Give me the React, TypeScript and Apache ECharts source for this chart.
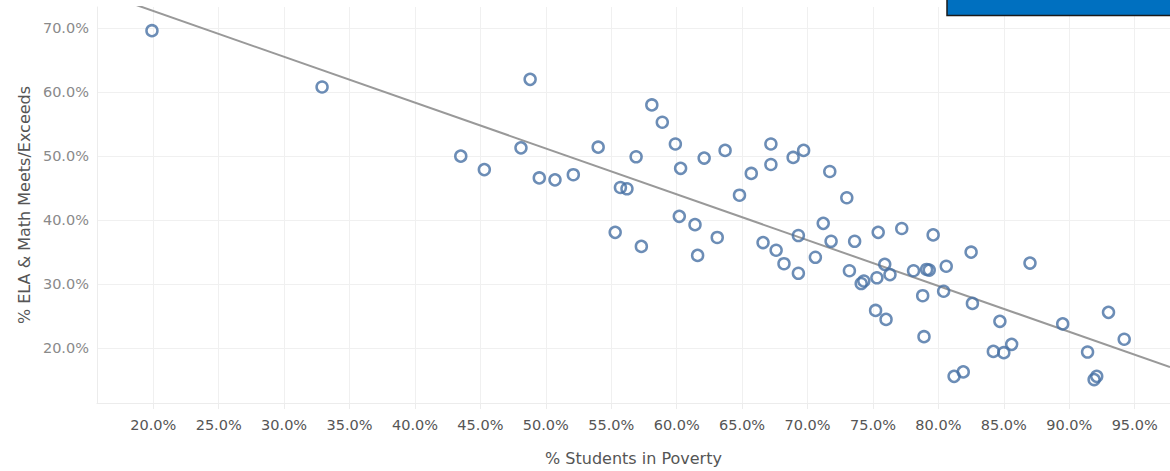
import React, { useEffect, useRef } from "react";
import * as echarts from "echarts";

// % Students in Poverty (x) vs % ELA & Math Meets/Exceeds (y)
const povertyPct: number[] = [
  19.9, 32.9, 43.5, 45.3, 48.1, 48.8, 49.5, 50.7, 52.1, 54.0,
  55.3, 55.7, 56.2, 56.9, 57.3, 58.1, 58.9, 59.9, 60.3, 60.2,
  61.4, 61.6, 62.1, 63.1, 63.7, 64.8, 65.7, 66.6, 67.2, 67.2,
  67.6, 68.2, 68.9, 69.3, 69.3, 69.7, 70.6, 71.2, 71.7, 71.8,
  73.0, 73.2, 73.6, 74.1, 74.3, 75.3, 75.4, 75.2, 75.9, 76.0,
  76.3, 77.2, 78.1, 78.8, 78.9, 79.1, 79.3, 79.6, 80.4, 80.6,
  81.2, 81.9, 82.5, 82.6, 84.2, 84.7, 85.0, 85.6, 87.0, 89.5,
  91.4, 91.9, 92.1, 93.0, 94.2,
];
const meetsPct: number[] = [
  69.6, 60.8, 50.0, 47.9, 51.3, 62.0, 46.6, 46.3, 47.1, 51.4,
  38.1, 45.1, 44.9, 49.9, 35.9, 58.0, 55.3, 51.9, 48.1, 40.6,
  39.3, 34.5, 49.7, 37.3, 50.9, 43.9, 47.3, 36.5, 51.9, 48.7,
  35.3, 33.2, 49.8, 31.7, 37.6, 50.9, 34.2, 39.5, 47.6, 36.7,
  43.5, 32.1, 36.7, 30.1, 30.5, 31.0, 38.1, 25.9, 33.1, 24.5,
  31.5, 38.7, 32.1, 28.2, 21.8, 32.3, 32.2, 37.7, 28.9, 32.8,
  15.6, 16.3, 35.0, 27.0, 19.5, 24.2, 19.3, 20.6, 33.3, 23.8,
  19.4, 15.1, 15.6, 25.6, 21.4,
];

const xTicks: number[] = [20, 25, 30, 35, 40, 45, 50, 55, 60, 65, 70, 75, 80, 85, 90, 95];
const yTicks: number[] = [20, 30, 40, 50, 60, 70];

const X_MIN = 15.7;
const X_MAX = 97.7;
const Y_MIN = 11.44;
const Y_MAX = 73.3;

// Trend line (linear)
const TREND_SLOPE = -0.716;
const TREND_INTERCEPT = 87.0;

export default function App() {
  const ref = useRef<HTMLDivElement>(null);
  useEffect(() => {
    if (!ref.current) return;
    const chart = echarts.init(ref.current, undefined, { renderer: "svg" });
    const points = povertyPct.map((x, i) => [x, meetsPct[i]]);
    const trend = [X_MIN, X_MAX].map((x) => [x, TREND_INTERCEPT + TREND_SLOPE * x]);
    const fmt = (v: number) => v.toFixed(1) + "%";
    const font = "'DejaVu Sans', 'Noto Sans', sans-serif";
    chart.setOption({
      animation: false,
      textStyle: { fontFamily: font },
      grid: { left: 97, right: 0, top: 7, bottom: 67, containLabel: false },
      xAxis: {
        type: "value",
        min: X_MIN,
        max: X_MAX,
        name: "% Students in Poverty",
        nameLocation: "middle",
        nameGap: 47,
        nameTextStyle: { color: "#555", fontSize: 16, fontFamily: font },
        axisLine: { show: true, lineStyle: { color: "#ececec", width: 1 } },
        axisTick: { show: true, customValues: xTicks, length: 6, lineStyle: { color: "#ececec" } },
        axisLabel: {
          customValues: xTicks,
          formatter: fmt,
          color: "#555",
          fontSize: 14.5,
          margin: 14,
          fontFamily: font,
        },
        splitLine: { show: true, lineStyle: { color: "#f0f0f0", width: 1 } },
      },
      yAxis: {
        type: "value",
        min: Y_MIN,
        max: Y_MAX,
        name: "% ELA & Math Meets/Exceeds",
        nameLocation: "middle",
        nameGap: 64,
        nameRotate: 90,
        nameTextStyle: { color: "#555", fontSize: 16, fontFamily: font },
        axisLine: { show: true, lineStyle: { color: "#ececec", width: 1 } },
        axisTick: { show: false, customValues: yTicks },
        axisLabel: {
          customValues: yTicks,
          formatter: fmt,
          color: "#8a8a8a",
          fontSize: 14.5,
          margin: 8,
          fontFamily: font,
        },
        splitLine: { show: true, lineStyle: { color: "#f0f0f0", width: 1 } },
      },
      series: [
        {
          type: "line",
          data: trend,
          showSymbol: false,
          symbol: "none",
          clip: true,
          lineStyle: { color: "#999999", width: 2 },
          silent: true,
          z: 1,
        },
        {
          type: "scatter",
          data: points,
          symbol: "circle",
          symbolSize: 11,
          itemStyle: { color: "rgba(255,255,255,0)", borderColor: "#4771a4", borderWidth: 2.5 },
          z: 2,
        },
      ],
      graphic: [
        {
          type: "rect",
          shape: { x: 947, y: -5, width: 240, height: 20.5 },
          style: { fill: "#0070c0", stroke: "#1a1a1a", lineWidth: 1.5 },
          z: 10,
        },
      ],
    });
    return () => chart.dispose();
  }, []);
  return (
    <div
      ref={ref}
      style={{ position: "absolute", left: 0, top: 0, width: 1170, height: 471, background: "#fff" }}
    />
  );
}
